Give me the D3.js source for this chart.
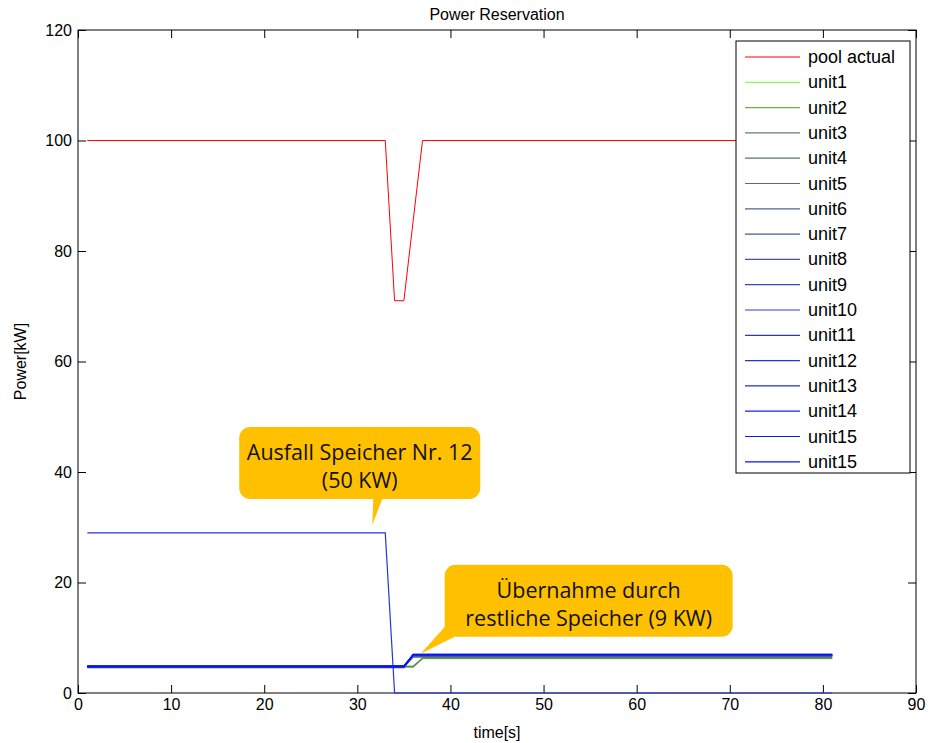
<!DOCTYPE html>
<html>
<head>
<meta charset="utf-8">
<script src="https://cdn.jsdelivr.net/npm/d3@7"></script>
<style>
  body { margin: 0; background: #fff; }
  svg text { font-family: "Liberation Sans", Arial, Helvetica, sans-serif; }
  .callout text { font-family: "Open Sans", "Noto Sans", sans-serif; }
</style>
</head>
<body>
<svg id="chart" width="930" height="743"></svg>
<script>
// time points where the curves change (s)
const times = [1, 33, 34, 35, 36, 37, 81];

const poolActual = [100, 100, 71, 71, 85.5, 100, 100];

const unitNames = ['unit1', 'unit2', 'unit3', 'unit4', 'unit5', 'unit6', 'unit7', 'unit8',
  'unit9', 'unit10', 'unit11', 'unit12', 'unit13', 'unit14', 'unit15', 'unit15'];

const unitValues = [
  [4.9, 4.9, 4.9, 4.9, 4.9, 6.2, 6.2],
  [4.7, 4.7, 4.7, 4.7, 4.7, 6.3, 6.3],
  [4.8, 4.8, 4.8, 4.8, 4.8, 6.3, 6.3],
  [4.7, 4.7, 4.7, 4.7, 6.5, 6.5, 6.5],
  [4.8, 4.8, 4.8, 4.8, 6.6, 6.6, 6.6],
  [4.7, 4.7, 4.7, 4.7, 6.7, 6.7, 6.7],
  [4.9, 4.9, 4.9, 4.9, 6.8, 6.8, 6.8],
  [4.8, 4.8, 4.8, 4.8, 6.7, 6.7, 6.7],
  [4.7, 4.7, 4.7, 4.7, 6.8, 6.8, 6.8],
  [4.9, 4.9, 4.9, 4.9, 6.9, 6.9, 6.9],
  [4.6, 4.6, 4.6, 4.6, 6.8, 6.8, 6.8],
  [29, 29, 0, 0, 0, 0, 0],
  [4.8, 4.8, 4.8, 4.8, 6.9, 6.9, 6.9],
  [4.7, 4.7, 4.7, 4.7, 7.0, 7.0, 7.0],
  [4.9, 4.9, 4.9, 4.9, 6.9, 6.9, 6.9],
  [4.8, 4.8, 4.8, 4.8, 7.0, 7.0, 7.0]
];

const unitColors = ['#88ff44', '#70aa55', '#5f8060', '#5a7272', '#5a6a88', '#506090',
  '#4858a0', '#4050a8', '#3848b8', '#3040c0', '#2838cc', '#2434d8', '#1c2ce0',
  '#1424e8', '#0c1cf0', '#0414f8'];

const xTicks = [0, 10, 20, 30, 40, 50, 60, 70, 80, 90];
const yTicks = [0, 20, 40, 60, 80, 100, 120];

// annotation anchors (time, power) and texts
const calloutTexts = [['Ausfall Speicher Nr. 12', '(50 KW)'], ['Übernahme durch', 'restliche Speicher (9 KW)']];
const calloutAnchors = [[31.6, 30.4], [36.8, 7.1]];

const margin = {top: 30, right: 14, bottom: 50, left: 78};
const svg = d3.select('#chart');
const W = 930 - margin.left - margin.right;
const H = 743 - margin.top - margin.bottom;
const g = svg.append('g').attr('transform', `translate(${margin.left},${margin.top})`);

const x = d3.scaleLinear().domain([0, 90]).range([0, W]);
const y = d3.scaleLinear().domain([0, 120]).range([H, 0]);

/*
 ** Frame + ticks
 */
g.append('rect')
  .attr('width', W).attr('height', H)
  .attr('fill', 'none').attr('stroke', '#000').attr('stroke-width', 1);

const tickLen = 8;
g.append('g').attr('transform', `translate(0,${H})`)
  .call(d3.axisBottom(x).tickValues(xTicks).tickSizeInner(-tickLen).tickSizeOuter(0).tickPadding(6))
  .call(a => a.select('.domain').remove())
  .call(a => a.selectAll('text').attr('font-size', 16).attr('fill', '#000'));
g.append('g')
  .call(d3.axisTop(x).tickValues(xTicks).tickSizeInner(-tickLen).tickSizeOuter(0).tickFormat(''))
  .call(a => a.select('.domain').remove());
g.append('g')
  .call(d3.axisLeft(y).tickValues(yTicks).tickSizeInner(-tickLen).tickSizeOuter(0).tickPadding(6))
  .call(a => a.select('.domain').remove())
  .call(a => a.selectAll('text').attr('font-size', 16).attr('fill', '#000'));
g.append('g').attr('transform', `translate(${W},0)`)
  .call(d3.axisRight(y).tickValues(yTicks).tickSizeInner(-tickLen).tickSizeOuter(0).tickFormat(''))
  .call(a => a.select('.domain').remove());

/*
 ** Lines
 */
const line = d3.line().x((d, i) => x(times[i])).y(d => y(d));

g.append('path')
  .attr('d', line(poolActual))
  .attr('fill', 'none').attr('stroke', '#ff0000').attr('stroke-width', 1);

unitValues.forEach((vals, k) => {
  g.append('path')
    .attr('d', line(vals))
    .attr('fill', 'none')
    .attr('stroke', unitColors[k])
    .attr('stroke-width', 1.2);
});

/*
 ** Labels
 */
svg.append('text').attr('x', margin.left + W / 2).attr('y', 20)
  .attr('text-anchor', 'middle').attr('font-size', 16).text('Power Reservation');
svg.append('text').attr('x', margin.left + W / 2).attr('y', 738)
  .attr('text-anchor', 'middle').attr('font-size', 16).text('time[s]');
svg.append('text')
  .attr('transform', `translate(26,${margin.top + H / 2}) rotate(-90)`)
  .attr('text-anchor', 'middle').attr('font-size', 16).text('Power[kW]');

/*
 ** Legend
 */
const legendItems = [{name: 'pool actual', color: '#ff0000'}]
  .concat(unitNames.map((n, i) => ({name: n, color: unitColors[i]})));
const lg = g.append('g').attr('transform', `translate(${W - 180},11)`);
lg.append('rect')
  .attr('width', 174).attr('height', 432)
  .attr('fill', '#fff').attr('stroke', '#000');
const li = lg.selectAll('g.item').data(legendItems).enter().append('g')
  .attr('class', 'item')
  .attr('transform', (d, i) => `translate(0,${16 + i * 25.3})`);
li.append('line').attr('x1', 9).attr('x2', 64)
  .attr('stroke', d => d.color).attr('stroke-width', 1.2);
li.append('text').attr('x', 72).attr('y', 6)
  .attr('font-size', 18).text(d => d.name);

/*
 ** Callouts
 */
const callouts = [
  {box: [-133, -98, 241, 72], tail: [[1, -26], [10, -26]]},
  {box: [24, -89, 288, 72], tail: [[26, -29], [34, -17]]}
];
callouts.forEach((c, k) => {
  const ax = x(calloutAnchors[k][0]);
  const ay = y(calloutAnchors[k][1]);
  const cg = g.append('g').attr('class', 'callout').attr('transform', `translate(${ax},${ay})`);
  const [bx, by, bw, bh] = c.box;
  cg.append('rect')
    .attr('x', bx).attr('y', by).attr('width', bw).attr('height', bh)
    .attr('rx', 11).attr('fill', '#ffc000');
  cg.append('path')
    .attr('d', `M0,0 L${c.tail[0][0]},${c.tail[0][1]} L${c.tail[1][0]},${c.tail[1][1]} Z`)
    .attr('fill', '#ffc000');
  calloutTexts[k].forEach((t, j) => {
    cg.append('text')
      .attr('x', bx + bw / 2).attr('y', by + 33 + j * 28)
      .attr('text-anchor', 'middle').attr('font-size', 21.5).attr('fill', '#111')
      .text(t);
  });
});
</script>
</body>
</html>
